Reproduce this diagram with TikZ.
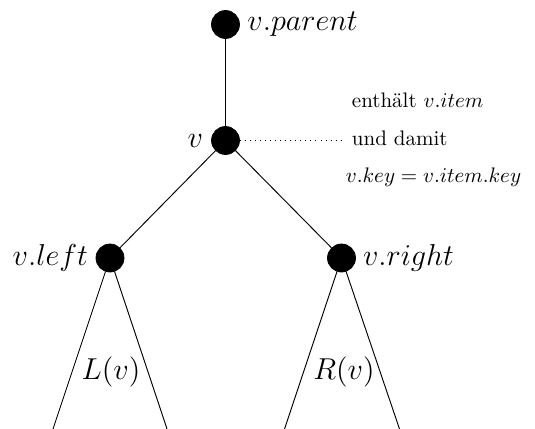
\documentclass[tikz,border=0pt]{standalone}
\usepackage{fontspec}
\begin{document}
\begin{tikzpicture}[x=0.47619pt,y=-0.47619pt,
  dot/.style={circle,fill=black,draw=black,minimum size=13.3pt,inner sep=0pt},
  lbl/.style={inner sep=0pt,font=\Large},
  txt/.style={inner sep=0pt,anchor=base west},
  edge/.style={draw=black,line width=0.45pt}]
\useasboundingbox (0,0) rectangle (535,429);
% nodes
\node[dot] (parent) at (225.5,24.5) {};
\node[dot] (v) at (225.5,140.5) {};
\node[dot] (l) at (110,258) {};
\node[dot] (r) at (341.5,258) {};
% labels
\node[lbl,anchor=west] (parentlbl) at ([xshift=3.4pt]parent.east) {$v.parent$};
\node[lbl,anchor=east] (vlbl) at ([xshift=-3.6pt]v.west) {$v$};
\node[lbl,anchor=east] (llbl) at ([xshift=-3.4pt]l.west) {$v.left$};
\node[lbl,anchor=west] (rlbl) at ([xshift=3.2pt]r.east) {$v.right$};
% subtree bottoms
\coordinate (la) at (53,429);
\coordinate (lb) at (167,429);
\coordinate (ra) at (284.5,429);
\coordinate (rb) at (399.5,429);
\node[lbl] (Lv) at (111,371.5) {$L(v)$};
\node[lbl] (Rv) at (344,371.5) {$R(v)$};
% edges
\draw[edge] (parent) -- (v);
\draw[edge] (v) -- (l);
\draw[edge] (v) -- (r);
\draw[edge] (l) -- (la);
\draw[edge] (l) -- (lb);
\draw[edge] (r) -- (ra);
\draw[edge] (r) -- (rb);
% side text
\node[txt] (t1) at (351.5,107.5) {enthält $v.item$};
\node[txt] (t2) at (351.5,145.5) {und damit};
\node[txt] (t3) at (345.5,183) {$v.key = v.item.key$};
\coordinate (dotend) at (342,140.5);
\draw[dotted,line width=0.4pt] (v) -- (dotend);
\end{tikzpicture}
\end{document}
